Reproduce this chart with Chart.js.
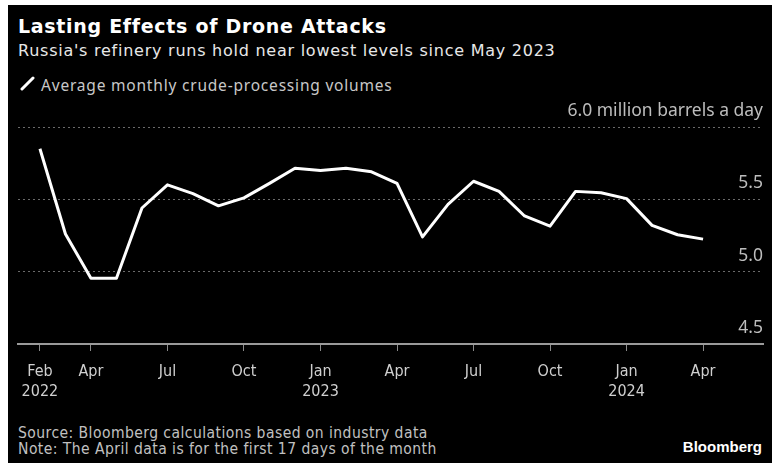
<!DOCTYPE html>
<html>
<head>
<meta charset="utf-8">
<script src="https://cdn.jsdelivr.net/npm/chart.js@4.4.1/dist/chart.umd.min.js"></script>
<style>
  html, body { margin: 0; padding: 0; background: #fff; }
  #frame { position: absolute; left: 8px; top: 5px; width: 764px; height: 458px; background: #000; }
  .txt { position: absolute; white-space: nowrap; line-height: 1; }
  #title { left: 18px; top: 15px; font: bold 19px "DejaVu Sans"; letter-spacing: 0.7px; color: #fff; }
  #subtitle { left: 18px; top: 41px; font: 16px "DejaVu Sans"; letter-spacing: 0.75px; color: #e8e8e8; }
  #legend { left: 41px; top: 74px; font: 15.5px "Noto Sans"; letter-spacing: 0.8px; color: #c8c8c8; }
  #slash { position: absolute; left: 20px; top: 76px; width: 15px; height: 15px; }
  #source { left: 18px; top: 424px; font: 15.5px "DejaVu Sans Condensed"; letter-spacing: 0.45px; color: #c0c0c0; }
  #note { left: 18px; top: 440px; font: 15.5px "DejaVu Sans Condensed"; letter-spacing: 0.45px; color: #c0c0c0; }
  #brand { right: 10px; top: 438px; font: bold 15px "Liberation Sans"; color: #fff; }
  #wrap { position: absolute; left: 0; top: 100px; width: 772px; height: 305px; }
</style>
</head>
<body>
<div id="frame"></div>
<div class="txt" id="title">Lasting Effects of Drone Attacks</div>
<div class="txt" id="subtitle">Russia's refinery runs hold near lowest levels since May 2023</div>
<svg id="slash" viewBox="0 0 15 15"><line x1="2" y1="13" x2="13" y2="2" stroke="#fff" stroke-width="3" stroke-linecap="round"/></svg>
<div class="txt" id="legend">Average monthly crude-processing volumes</div>
<div id="wrap"><canvas id="chart"></canvas></div>
<div class="txt" id="source">Source: Bloomberg calculations based on industry data</div>
<div class="txt" id="note">Note: The April data is for the first 17 days of the month</div>
<div class="txt" id="brand">Bloomberg</div>

<script>
// monthly refinery runs, million barrels a day, Feb 2022 .. Apr 2024
const runs = [
  5.85, 5.26, 4.955, 4.955, 5.44, 5.60, 5.54, 5.455, 5.51, 5.61, 5.715,
  5.70, 5.715, 5.69, 5.61, 5.24, 5.465, 5.625, 5.555, 5.385, 5.315, 5.555, 5.545,
  5.505, 5.32, 5.255, 5.225
];

// month index (0 = Feb 2022) for each x tick
const xTickPos = [0, 2, 5, 8, 11, 14, 17, 20, 23, 26];
const xTickLabels = [
  ["Feb", "2022"], "Apr", "Jul", "Oct", ["Jan", "2023"],
  "Apr", "Jul", "Oct", ["Jan", "2024"], "Apr"
];
const yTicks = [4.5, 5.0, 5.5, 6.0];
const yUnit = "million barrels a day";

const ctx = document.getElementById("chart").getContext("2d");
new Chart(ctx, {
  type: "line",
  data: {
    datasets: [{
      data: runs.map((v, i) => ({ x: i, y: v })),
      borderColor: "#fff",
      borderWidth: 3,
      pointRadius: 0,
      tension: 0,
      borderJoinStyle: "round",
      borderCapStyle: "butt"
    }]
  },
  options: {
    responsive: true,
    maintainAspectRatio: false,
    animation: false,
    layout: { padding: { left: 18, right: 9, top: 27, bottom: 0 } },
    plugins: { legend: { display: false }, tooltip: { enabled: false } },
    scales: {
      x: {
        type: "linear",
        min: -0.86,
        max: 28.35,
        afterBuildTicks: s => { s.ticks = xTickPos.map(v => ({ value: v })); },
        afterFit: s => { s.height = 61; },
        ticks: {
          autoSkip: false,
          maxRotation: 0,
          padding: 10,
          color: "#cfcfcf",
          font: { family: "DejaVu Sans Condensed", size: 16, lineHeight: 1.3 },
          callback: v => xTickLabels[xTickPos.indexOf(v)]
        },
        grid: { drawOnChartArea: false, drawTicks: true, tickLength: 7, tickColor: "#8a8a8a", tickWidth: 1 },
        border: { display: true, color: "#9a9a9a", width: 2 }
      },
      y: {
        position: "right",
        min: 4.5,
        max: 6.0,
        afterBuildTicks: s => { s.ticks = yTicks.map(v => ({ value: v })); },
        afterFit: s => { s.width = 0; },
        ticks: {
          mirror: true,
          padding: 0,
          labelOffset: -16,
          color: "#bdbdbd",
          font: { family: "Noto Sans", size: 17.5 },
          callback: v => v === 6 ? v.toFixed(1) + " " + yUnit : v.toFixed(1)
        },
        grid: {
          drawTicks: false,
          lineWidth: 1,
          color: c => c.tick && c.tick.value === 4.5 ? "rgba(0,0,0,0)" : "#6a6a6a"
        },
        border: { display: false, dash: [2, 3] }
      }
    }
  }
});
</script>
</body>
</html>
